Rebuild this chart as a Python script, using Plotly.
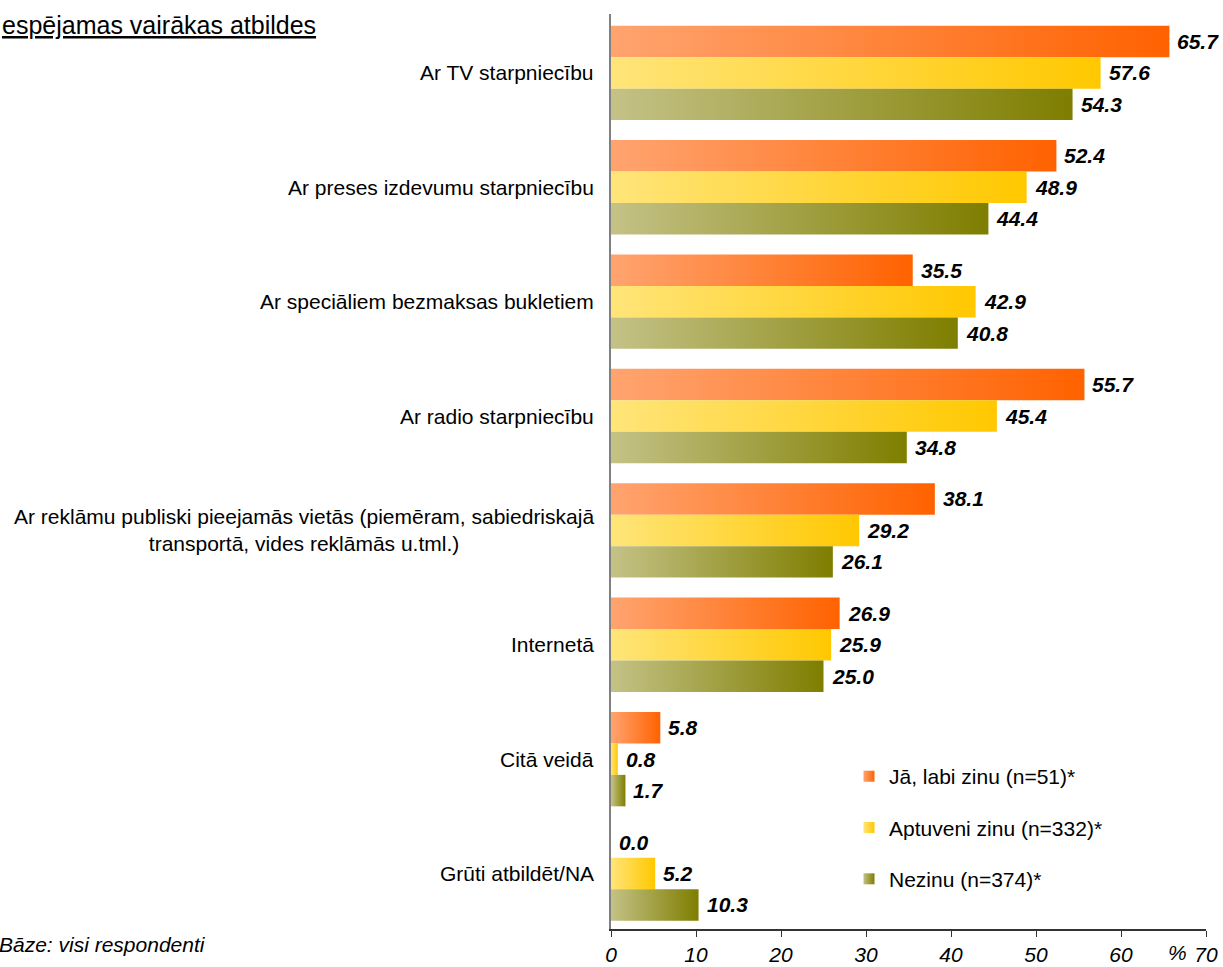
import plotly.graph_objects as go

categories = [
    "Ar TV starpniecību",
    "Ar preses izdevumu starpniecību",
    "Ar speciāliem bezmaksas bukletiem",
    "Ar radio starpniecību",
    "Ar reklāmu publiski pieejamās vietās (piemēram, sabiedriskajā<br>transportā, vides reklāmās u.tml.)",
    "Internetā",
    "Citā veidā",
    "Grūti atbildēt/NA",
]
series_names = ["Jā, labi zinu (n=51)*", "Aptuveni zinu (n=332)*", "Nezinu (n=374)*"]
ja_labi_zinu = [65.7, 52.4, 35.5, 55.7, 38.1, 26.9, 5.8, 0.0]
aptuveni_zinu = [57.6, 48.9, 42.9, 45.4, 29.2, 25.9, 0.8, 5.2]
nezinu = [54.3, 44.4, 40.8, 34.8, 26.1, 25.0, 1.7, 10.3]
x_ticks = [0, 10, 20, 30, 40, 50, 60, 70]

series_values = [ja_labi_zinu, aptuveni_zinu, nezinu]
light_colors = ["#FFA470", "#FFE57A", "#C4C286"]
dark_colors = ["#FF6200", "#FFC800", "#7E7E00"]

FONT = "Liberation Sans, Arial, sans-serif"
h = 0.275
d = 0.015

fig = go.Figure()

for s, vals in enumerate(series_values):
    for i, v in enumerate(vals):
        yc = i + d + (s - 1) * h
        if v > 0:
            y0, y1 = yc - h / 2, yc + h / 2
            fig.add_trace(go.Scatter(
                x=[0, v, v, 0, 0], y=[y0, y0, y1, y1, y0],
                mode="lines", fill="toself", line=dict(width=0),
                fillgradient=dict(type="horizontal",
                                  colorscale=[[0, light_colors[s]], [1, dark_colors[s]]]),
                showlegend=False, hoverinfo="skip",
            ))
        fig.add_annotation(
            x=v, y=yc, xref="x", yref="y", text=f"<b><i>{v:.1f}</i></b>",
            showarrow=False, xanchor="left", yanchor="middle", xshift=6,
            font=dict(family=FONT, size=21, color="black"),
        )

for s, name in enumerate(series_names):
    fig.add_trace(go.Scatter(
        x=[None], y=[None], mode="markers", name=name,
        legendgroup=f"g{s}",
        marker=dict(symbol="square", size=11, color=light_colors[s],
                    gradient=dict(type="horizontal", color=dark_colors[s])),
    ))

for i, c in enumerate(categories):
    fig.add_annotation(
        x=0, y=i + d, xref="paper", yref="y", text=c, showarrow=False,
        xanchor="right", yanchor="middle", align="center", xshift=-15,
        font=dict(family=FONT, size=21, color="black"),
    )

fig.add_annotation(
    x=0, y=1, xref="paper", yref="paper", xshift=-611, yshift=5,
    text="<u>espējamas vairākas atbildes</u>", showarrow=False,
    xanchor="left", yanchor="top", font=dict(family=FONT, size=25, color="black"),
)
fig.add_annotation(
    x=0, y=0, xref="paper", yref="paper", xshift=-614, yshift=-15,
    text="<i>Bāze: visi respondenti</i>", showarrow=False,
    xanchor="left", yanchor="middle", font=dict(family=FONT, size=21, color="black"),
)
fig.add_annotation(
    x=66.6, y=0, xref="x", yref="paper", yshift=-23,
    text="<i>%</i>", showarrow=False, xanchor="center", yanchor="middle",
    font=dict(family=FONT, size=21, color="black"),
)

fig.update_layout(
    width=1223, height=967,
    margin=dict(l=611, r=17, t=14, b=38, autoexpand=False),
    paper_bgcolor="white", plot_bgcolor="white",
    showlegend=True,
    legend=dict(x=0.40, y=0.189, xanchor="left", yanchor="top",
                font=dict(family=FONT, size=21, color="black"),
                tracegroupgap=21, itemwidth=30, bgcolor="rgba(0,0,0,0)"),
    xaxis=dict(range=[0, 70], tickvals=x_ticks, ticktext=[str(t) for t in x_ticks],
               showgrid=False, zeroline=False, showline=True, linecolor="#333333",
               linewidth=1.5, ticks="outside", ticklen=6, tickcolor="#333333",
               tickfont=dict(family=FONT, size=21, color="black", style="italic"),
               ticklabelstandoff=0, automargin=False),
    yaxis=dict(range=[7.5, -0.5], showgrid=False, zeroline=False, showline=True,
               linecolor="#808080", linewidth=2, showticklabels=False, ticks="",
               automargin=False),
)

fig.write_html(
    "out.html",
    config={"displayModeBar": False},
    post_script="document.body.style.margin='0';document.body.style.overflow='hidden';",
)
